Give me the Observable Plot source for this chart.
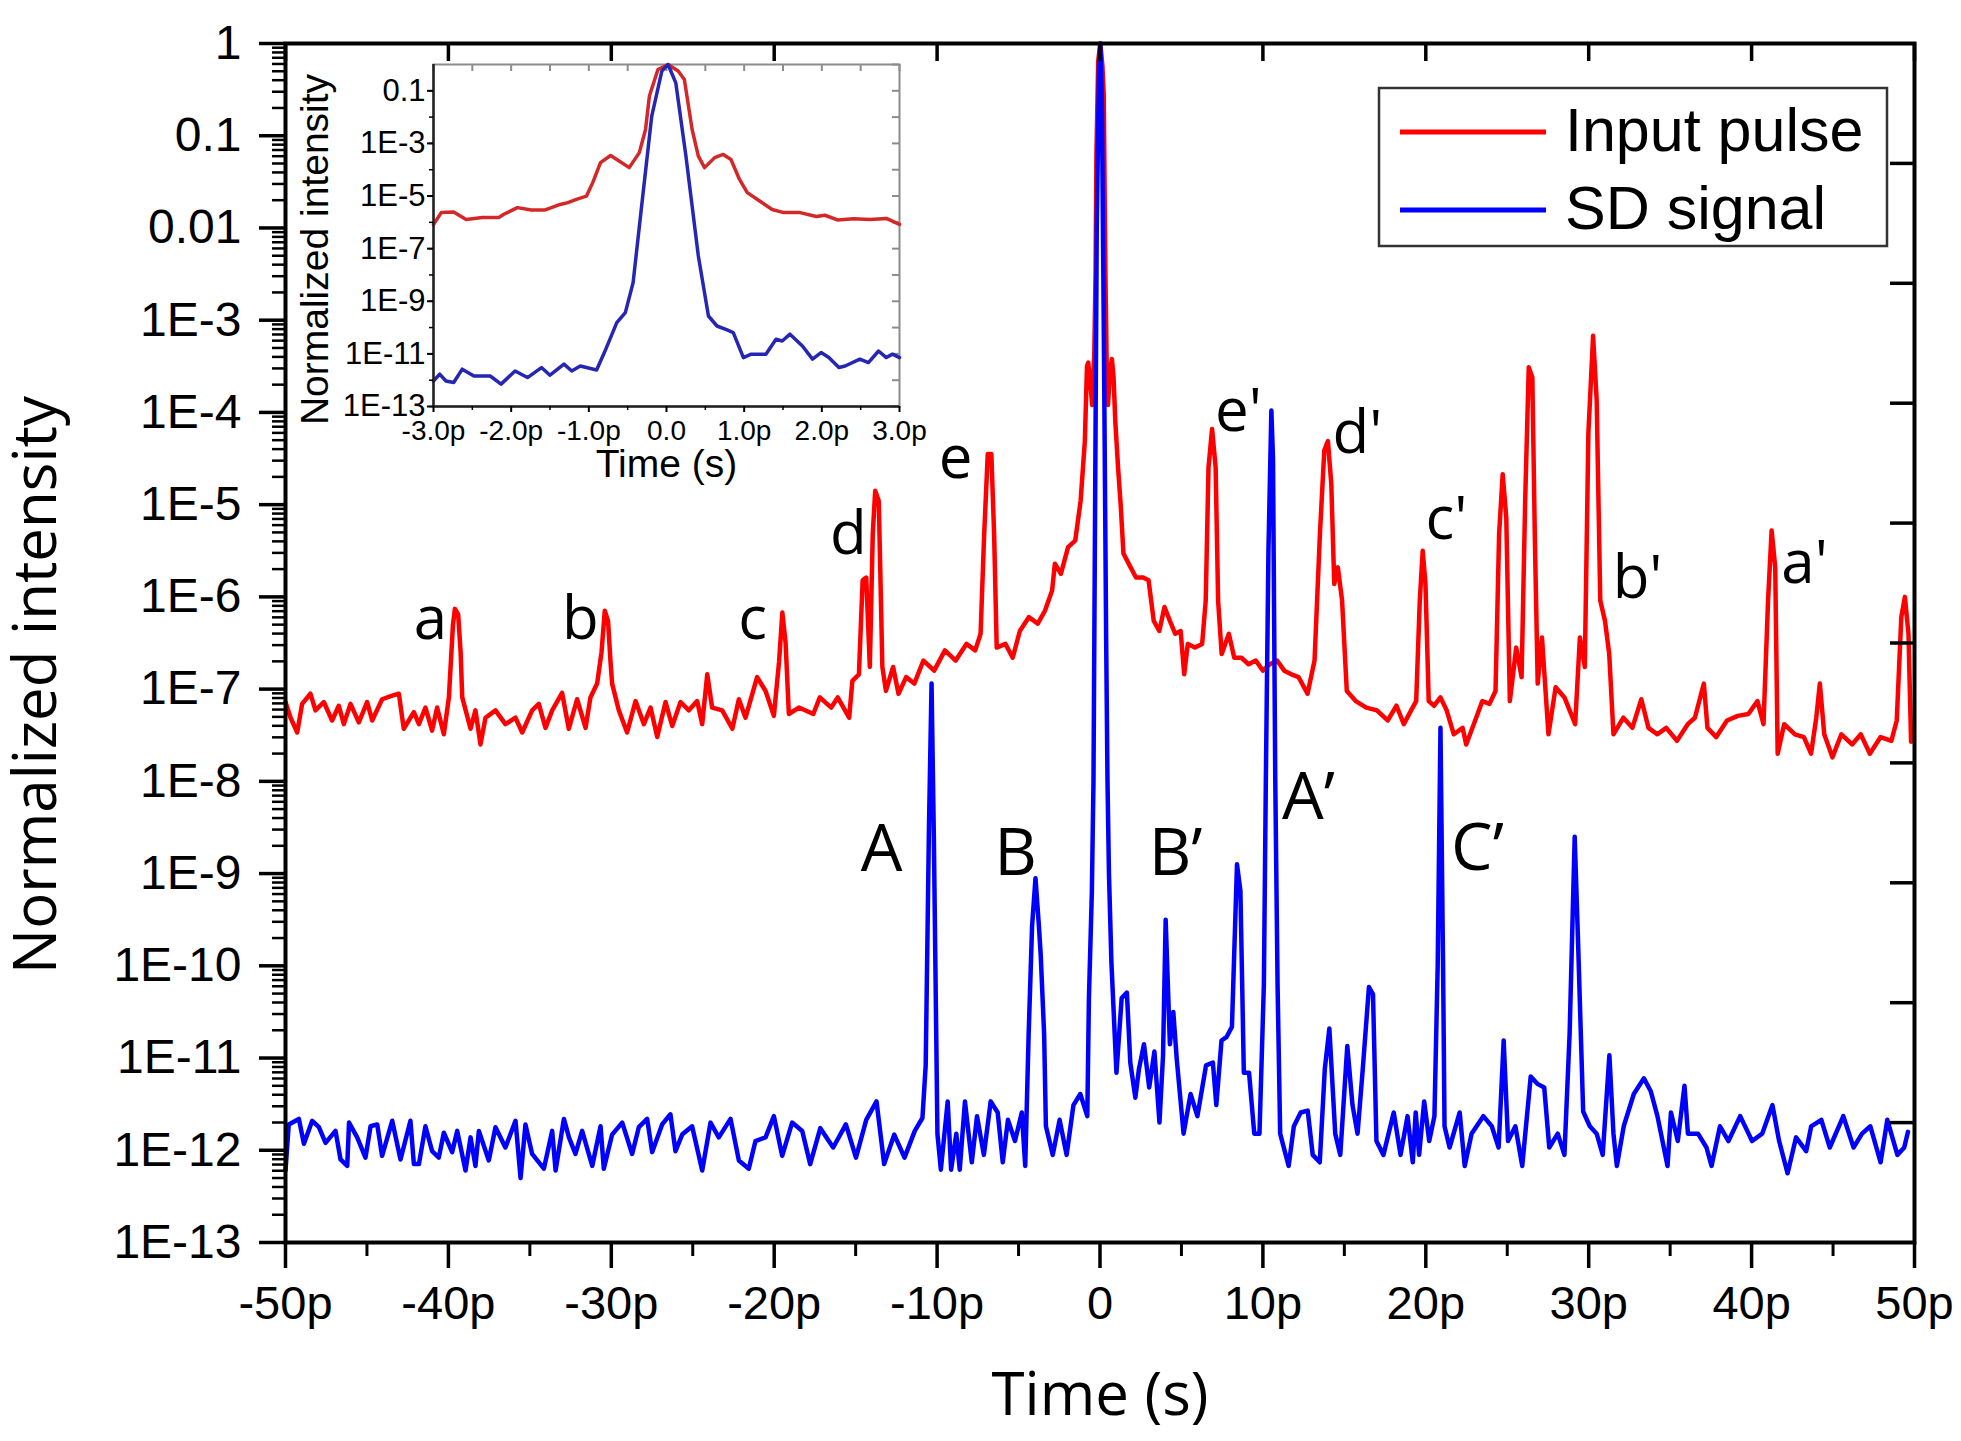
<!DOCTYPE html>
<html><head><meta charset="utf-8">
<script src="https://cdn.jsdelivr.net/npm/d3@7"></script>
<script src="https://cdn.jsdelivr.net/npm/@observablehq/plot@0.6"></script>
<style>
html,body{margin:0;padding:0;background:#fff;}
#wrap{position:relative;width:1961px;height:1441px;overflow:hidden;background:#fff;}
#wrap > *{position:absolute;}
</style></head><body><div id="wrap"></div>
<script>
// ---- Main chart data: [time (ps), log10(normalized intensity)] ----
const inputPulse = [
[-50,-7.14],[-49.69,-7.31],[-49.28,-7.47],[-48.98,-7.16],[-48.47,-7.05],[-48.16,-7.23],[-47.65,-7.14],[-47.14,-7.34],[-46.73,-7.18],[-46.42,-7.38],[-46.01,-7.16],[-45.5,-7.36],[-44.99,-7.14],[-44.68,-7.34],[-44.07,-7.11],[-43.45,-7.07],[-43.04,-7.05],[-42.74,-7.43],[-42.12,-7.25],[-41.81,-7.38],[-41.41,-7.20],[-41.0,-7.45],[-40.69,-7.20],[-40.28,-7.49],[-39.97,-7.09],[-39.72,-6.3],[-39.6,-6.13],[-39.4,-6.19],[-39.25,-6.6],[-39.15,-7.09],[-38.64,-7.43],[-38.34,-7.23],[-38.03,-7.60],[-37.72,-7.31],[-37.11,-7.23],[-36.5,-7.38],[-35.88,-7.31],[-35.47,-7.47],[-34.86,-7.23],[-34.45,-7.16],[-34.04,-7.42],[-33.63,-7.23],[-33.02,-7.04],[-32.61,-7.43],[-32.1,-7.11],[-31.58,-7.42],[-31.28,-7.09],[-30.87,-6.94],[-30.6,-6.6],[-30.4,-6.15],[-30.2,-6.26],[-30.05,-6.7],[-29.95,-6.94],[-29.54,-7.23],[-29.03,-7.47],[-28.51,-7.13],[-28.0,-7.38],[-27.59,-7.20],[-27.18,-7.52],[-26.67,-7.14],[-26.26,-7.40],[-25.75,-7.14],[-25.24,-7.23],[-24.73,-7.13],[-24.42,-7.38],[-24.11,-6.84],[-23.81,-7.20],[-23.19,-7.23],[-22.57,-7.43],[-22.17,-7.11],[-21.76,-7.31],[-21.05,-6.87],[-20.53,-7.02],[-20.02,-7.29],[-19.7,-6.7],[-19.5,-6.17],[-19.3,-6.5],[-19.1,-7.27],[-18.48,-7.20],[-17.6,-7.27],[-17.2,-7.09],[-16.5,-7.20],[-16.1,-7.09],[-15.4,-7.31],[-15.2,-6.91],[-14.8,-6.84],[-14.57,-5.82],[-14.35,-5.79],[-14.13,-6.76],[-13.95,-5.32],[-13.8,-4.85],[-13.58,-4.96],[-13.36,-6.76],[-13.14,-7.02],[-12.7,-6.76],[-12.37,-7.05],[-11.9,-6.87],[-11.4,-6.94],[-10.84,-6.69],[-10.18,-6.80],[-9.52,-6.58],[-8.86,-6.69],[-8.2,-6.51],[-7.66,-6.58],[-7.33,-6.40],[-7.11,-5.32],[-6.89,-4.45],[-6.67,-4.45],[-6.5,-5.32],[-6.34,-6.55],[-5.8,-6.51],[-5.36,-6.66],[-4.92,-6.37],[-4.37,-6.22],[-3.82,-6.29],[-3.38,-6.15],[-2.94,-5.93],[-2.77,-5.64],[-2.4,-5.75],[-1.96,-5.46],[-1.52,-5.39],[-1.19,-4.96],[-0.93,-4.31],[-0.8,-3.5],[-0.72,-3.46],[-0.6,-3.67],[-0.48,-3.92],[-0.35,-3.35],[-0.27,-2.47],[-0.22,-1.2],[-0.11,-0.19],[0.02,0],[0.15,-0.25],[0.23,-0.57],[0.33,-2.47],[0.41,-3.48],[0.49,-3.92],[0.62,-3.54],[0.73,-3.42],[0.83,-3.61],[0.94,-4.1],[1.11,-4.6],[1.27,-5.0],[1.44,-5.53],[1.88,-5.68],[2.21,-5.79],[2.65,-5.79],[2.98,-5.82],[3.3,-6.26],[3.64,-6.37],[3.96,-6.11],[4.29,-6.26],[4.62,-6.40],[4.95,-6.37],[5.17,-6.84],[5.39,-6.51],[5.83,-6.55],[6.27,-6.51],[6.49,-6.04],[6.66,-4.6],[6.88,-4.18],[7.1,-4.6],[7.25,-6.04],[7.47,-6.62],[7.91,-6.40],[8.24,-6.66],[8.68,-6.66],[9.12,-6.73],[9.56,-6.69],[10.0,-6.80],[10.43,-6.73],[10.87,-6.69],[11.31,-6.80],[11.75,-6.84],[12.19,-6.87],[12.74,-7.05],[13.17,-6.69],[13.5,-5.32],[13.77,-4.41],[13.99,-4.31],[14.2,-4.78],[14.38,-5.86],[14.6,-5.68],[14.86,-6.04],[15.15,-7.02],[15.7,-7.13],[16.35,-7.20],[17.0,-7.23],[17.66,-7.34],[18.2,-7.18],[18.65,-7.38],[19.1,-7.23],[19.41,-7.13],[19.63,-6.04],[19.81,-5.50],[19.98,-5.86],[20.18,-7.13],[20.51,-7.18],[20.9,-7.09],[21.28,-7.23],[21.72,-7.49],[22.26,-7.42],[22.48,-7.60],[23.03,-7.34],[23.47,-7.13],[23.91,-7.16],[24.28,-7.02],[24.5,-5.32],[24.72,-4.67],[24.94,-5.14],[25.16,-7.13],[25.55,-6.55],[25.88,-6.87],[26.1,-4.96],[26.32,-3.51],[26.54,-3.62],[26.69,-5.32],[26.87,-6.94],[27.13,-6.44],[27.53,-7.49],[27.97,-6.98],[28.51,-7.09],[29.17,-7.38],[29.46,-6.44],[29.76,-6.76],[29.98,-4.23],[30.27,-3.17],[30.49,-3.87],[30.71,-6.04],[31.0,-6.26],[31.26,-6.62],[31.52,-7.49],[32.13,-7.31],[32.68,-7.42],[33.23,-7.11],[33.67,-7.42],[34.22,-7.49],[34.76,-7.42],[35.42,-7.56],[36.08,-7.38],[36.52,-7.31],[37.07,-6.94],[37.29,-7.42],[37.83,-7.52],[38.49,-7.34],[39.15,-7.29],[39.8,-7.27],[40.36,-7.13],[40.73,-7.38],[41.01,-6.04],[41.23,-5.28],[41.45,-5.68],[41.6,-7.70],[42.0,-7.38],[42.66,-7.49],[43.21,-7.52],[43.65,-7.70],[43.97,-7.31],[44.19,-6.94],[44.46,-7.49],[44.96,-7.74],[45.51,-7.49],[46.17,-7.60],[46.7,-7.49],[47.26,-7.70],[47.92,-7.52],[48.58,-7.56],[48.91,-7.34],[49.19,-6.22],[49.41,-6.0],[49.63,-6.40],[49.79,-7.57]
];
const sdSignal = [
[-50,-12.22],[-49.8,-11.72],[-49.18,-11.66],[-48.87,-11.93],[-48.36,-11.68],[-47.95,-11.75],[-47.54,-11.92],[-46.93,-11.79],[-46.62,-12.10],[-46.21,-12.17],[-46.1,-11.70],[-45.6,-11.86],[-45.09,-12.08],[-44.78,-11.74],[-44.37,-11.72],[-44.07,-12.06],[-43.45,-11.68],[-42.94,-12.10],[-42.33,-11.68],[-42.12,-12.15],[-41.81,-12.15],[-41.41,-11.74],[-41.0,-12.01],[-40.59,-12.08],[-40.28,-11.81],[-39.77,-12.02],[-39.46,-11.79],[-38.95,-12.22],[-38.64,-11.86],[-38.34,-12.17],[-38.13,-11.79],[-37.52,-12.11],[-37.11,-11.75],[-36.5,-11.97],[-35.88,-11.68],[-35.57,-12.30],[-35.27,-11.72],[-34.86,-12.04],[-34.14,-12.20],[-33.63,-11.79],[-33.42,-12.22],[-32.91,-11.66],[-32.6,-11.86],[-32.2,-12.04],[-31.79,-11.79],[-31.17,-12.17],[-30.66,-11.74],[-30.46,-12.20],[-29.95,-11.83],[-29.33,-11.70],[-28.72,-12.04],[-28.31,-11.75],[-27.8,-11.66],[-27.49,-12.02],[-26.88,-11.72],[-26.37,-11.61],[-26.06,-12.01],[-25.65,-11.83],[-25.04,-11.74],[-24.42,-12.22],[-23.91,-11.70],[-23.4,-11.86],[-22.68,-11.66],[-22.17,-12.11],[-21.56,-12.20],[-21.15,-11.90],[-20.53,-11.86],[-20.02,-11.63],[-19.51,-12.06],[-18.9,-11.70],[-18.28,-11.79],[-17.79,-12.15],[-17.17,-11.76],[-16.38,-11.97],[-15.6,-11.72],[-14.98,-12.08],[-14.35,-11.67],[-13.72,-11.47],[-13.25,-12.15],[-12.63,-11.83],[-12.0,-12.08],[-11.37,-11.79],[-10.9,-11.65],[-10.7,-11.08],[-10.5,-8.5],[-10.34,-6.94],[-10.2,-8.6],[-9.98,-11.82],[-9.77,-12.21],[-9.35,-11.47],[-9.14,-12.21],[-8.82,-11.82],[-8.61,-12.21],[-8.29,-11.47],[-7.87,-12.13],[-7.55,-11.63],[-7.13,-12.05],[-6.71,-11.47],[-6.28,-11.59],[-5.97,-12.13],[-5.65,-11.67],[-5.22,-11.9],[-4.8,-11.59],[-4.59,-12.17],[-4.38,-10.74],[-4.17,-9.57],[-3.96,-9.05],[-3.75,-9.57],[-3.64,-9.88],[-3.43,-10.74],[-3.32,-11.74],[-2.9,-12.05],[-2.48,-11.67],[-2.05,-12.05],[-1.63,-11.51],[-1.21,-11.39],[-0.78,-11.63],[-0.68,-10.35],[-0.5,-9.2],[-0.4,-8.0],[-0.3,-5.0],[-0.2,-2.0],[-0.06,-0.25],[0.02,0],[0.12,-0.7],[0.25,-3.48],[0.38,-6.5],[0.46,-8.0],[0.55,-9.0],[0.7,-9.96],[1.01,-11.16],[1.33,-10.35],[1.65,-10.29],[1.86,-11.05],[2.17,-11.43],[2.39,-11.12],[2.7,-10.85],[3.02,-11.32],[3.34,-10.93],[3.65,-11.7],[3.87,-10.97],[4.03,-9.5],[4.29,-10.85],[4.5,-10.5],[4.71,-11.01],[5.13,-11.82],[5.56,-11.39],[5.98,-11.63],[6.51,-11.08],[6.93,-11.05],[7.14,-11.51],[7.46,-10.81],[7.78,-10.77],[8.1,-10.66],[8.41,-8.9],[8.62,-9.19],[8.83,-11.16],[9.15,-11.16],[9.47,-11.82],[9.79,-11.82],[10.06,-10.2],[10.18,-8.0],[10.34,-5.5],[10.52,-3.98],[10.62,-4.5],[10.76,-8.0],[10.9,-10.2],[11.06,-11.82],[11.58,-12.17],[11.9,-11.74],[12.32,-11.59],[12.75,-11.57],[13.06,-12.05],[13.49,-12.13],[13.8,-11.12],[14.08,-10.68],[14.44,-11.82],[14.75,-12.05],[15.18,-10.87],[15.5,-11.51],[15.81,-11.82],[16.13,-11.12],[16.51,-10.23],[16.76,-10.31],[16.97,-11.9],[17.4,-12.05],[18.03,-11.59],[18.45,-12.05],[18.88,-11.63],[19.2,-12.13],[19.38,-11.59],[19.59,-12.05],[19.9,-11.47],[20.21,-11.9],[20.53,-11.63],[20.73,-10.0],[20.9,-7.42],[21.06,-10.0],[21.15,-11.74],[21.46,-11.97],[22.08,-11.59],[22.39,-12.17],[22.81,-11.82],[23.53,-11.63],[24.05,-11.74],[24.47,-11.97],[24.78,-10.81],[25.05,-11.9],[25.5,-11.74],[25.92,-12.17],[26.44,-11.2],[26.85,-11.28],[27.27,-11.32],[27.58,-11.97],[28.1,-11.82],[28.51,-12.05],[28.83,-10.73],[29.14,-8.6],[29.34,-9.7],[29.66,-11.58],[30.07,-11.74],[30.49,-11.82],[30.86,-12.05],[31.27,-10.97],[31.52,-11.82],[31.73,-12.17],[32.15,-11.74],[32.77,-11.39],[33.39,-11.22],[33.81,-11.36],[34.22,-11.63],[34.84,-12.17],[35.05,-11.59],[35.47,-11.9],[35.88,-11.3],[36.09,-11.82],[36.71,-11.82],[37.23,-11.97],[37.54,-12.17],[38.06,-11.74],[38.58,-11.9],[39.3,-11.63],[40.03,-11.9],[40.65,-11.82],[41.28,-11.51],[41.69,-11.9],[42.21,-12.25],[42.73,-11.86],[43.35,-12.01],[43.66,-11.74],[44.28,-11.67],[44.8,-11.97],[45.63,-11.63],[46.26,-11.97],[46.78,-11.82],[47.29,-11.74],[47.92,-12.13],[48.33,-11.67],[48.95,-12.05],[49.37,-11.97],[49.6,-11.8]
];

// ---- Inset data: [time (ps), log10(normalized intensity)] ----
const insetInput = [
[-3,-6.08],[-2.9,-5.63],[-2.74,-5.61],[-2.58,-5.89],[-2.37,-5.82],[-2.16,-5.82],[-2.1,-5.7],[-1.92,-5.44],[-1.74,-5.53],[-1.56,-5.53],[-1.37,-5.32],[-1.27,-5.25],[-1.16,-5.13],[-1.03,-5.0],[-0.95,-4.49],[-0.85,-3.73],[-0.72,-3.46],[-0.61,-3.67],[-0.48,-3.92],[-0.35,-3.35],[-0.27,-2.47],[-0.22,-1.2],[-0.11,-0.19],[0.02,0],[0.15,-0.25],[0.23,-0.57],[0.33,-2.47],[0.41,-3.48],[0.49,-3.92],[0.62,-3.54],[0.73,-3.42],[0.83,-3.61],[0.94,-4.37],[1.04,-4.87],[1.2,-5.19],[1.36,-5.51],[1.51,-5.63],[1.72,-5.63],[1.93,-5.78],[2.04,-5.73],[2.2,-5.91],[2.41,-5.86],[2.62,-5.89],[2.83,-5.85],[3.0,-6.08]
];
const insetSD = [
[-3,-12.03],[-2.92,-11.77],[-2.84,-12.03],[-2.74,-12.09],[-2.63,-11.58],[-2.48,-11.84],[-2.27,-11.84],[-2.13,-12.15],[-1.95,-11.65],[-1.79,-11.9],[-1.61,-11.52],[-1.5,-11.81],[-1.32,-11.39],[-1.22,-11.65],[-1.11,-11.46],[-0.9,-11.61],[-0.8,-10.95],[-0.64,-9.81],[-0.53,-9.43],[-0.43,-8.29],[-0.32,-5.38],[-0.19,-1.96],[-0.06,-0.25],[0.02,0],[0.12,-0.7],[0.25,-3.48],[0.41,-7.28],[0.54,-9.56],[0.65,-9.94],[0.78,-10.09],[0.86,-10.19],[0.99,-11.14],[1.09,-11.01],[1.28,-11.01],[1.41,-10.44],[1.49,-10.51],[1.59,-10.25],[1.75,-10.7],[1.88,-11.2],[1.99,-10.95],[2.09,-11.14],[2.22,-11.52],[2.3,-11.46],[2.49,-11.2],[2.6,-11.33],[2.73,-10.89],[2.83,-11.14],[2.91,-11.01],[3.0,-11.14]
];

// ---- Ticks ----
const xMajor = [-50,-40,-30,-20,-10,0,10,20,30,40,50];
const xMinor = [-45,-35,-25,-15,-5,5,15,25,35,45];
const yMajorExp = [0,-1,-2,-3,-4,-5,-6,-7,-8,-9,-10,-11,-12,-13];
const rightTickExp = [-1.3,-2.6,-3.9,-5.2,-6.5,-7.8,-9.1,-10.4,-11.7];
const insetXTicks = [-3,-2,-1,0,1,2,3];
const insetXMinor = [-2.5,-1.5,-0.5,0.5,1.5,2.5];
const insetYLabelExp = [-1,-3,-5,-7,-9,-11,-13];
const insetYDecadeExp = [0,-2,-4,-6,-8,-10,-12];

// ---- Annotation labels ----
const peakLabels = ["a","b","c","d","e","e'","d'","c'","b'","a'"];
const peakLabelT = [-41.1,-31.9,-21.33,-15.44,-8.87,8.5,15.8,21.27,33.0,43.25];
const peakLabelExp = [-6.25,-6.25,-6.25,-5.33,-4.5,-3.99,-4.23,-5.16,-5.8,-5.64];
const sdLabels = ["A","B","B\u2019","A\u2019","C\u2019"];
const sdLabelT = [-13.41,-5.19,4.64,12.8,23.17];
const sdLabelExp = [-8.74,-8.79,-8.79,-8.18,-8.73];

const seriesNames = ["Input pulse","SD signal"];
const seriesColors = ["#ff0000","#0000ff"];

// ---- helpers ----
const yMinor = [];
for (let e = -13; e < 0; e++) for (let m = 2; m <= 9; m++) yMinor.push(m * 10 ** e);
const insetMinor = [];
for (let e = -13; e < 0; e++) insetMinor.push(10 ** e);
const fmtMain = v => { const e = Math.round(Math.log10(v)); return e === 0 ? "1" : e === -1 ? "0.1" : e === -2 ? "0.01" : "1E" + e; };
const fmtX = d => d === 0 ? "0" : d + "p";
const fmtInsetY = v => { const e = Math.round(Math.log10(v)); return e === -1 ? "0.1" : "1E" + e; };
const fmtInsetX = d => d === 0 ? "0.0" : d.toFixed(1) + "p";
const SANS = "'Liberation Sans', Arial, sans-serif";
const OPEN = "'Open Sans', 'Noto Sans', sans-serif";

const W = 1961, H = 1441, ML = 285, MR = 47, MT = 43, MB = 199;
const FW = W - ML - MR, FH = H - MT - MB;

const main = Plot.plot({
  width: W, height: H, marginLeft: ML, marginRight: MR, marginTop: MT, marginBottom: MB,
  x: {domain: [-50, 50]},
  y: {type: "log", domain: [1e-13, 1]},
  style: {fontFamily: SANS, fontSize: "47px", background: "transparent", color: "#000", overflow: "visible"},
  marks: [
    Plot.line(inputPulse, {x: d => d[0], y: d => 10 ** d[1], stroke: seriesColors[0], strokeWidth: 4.5, strokeLinejoin: "round"}),
    Plot.line(sdSignal, {x: d => d[0], y: d => 10 ** d[1], stroke: seriesColors[1], strokeWidth: 4.5, strokeLinejoin: "round"}),
    Plot.axisY({ticks: yMajorExp.map(e => 10 ** e), tickSize: 26, tickPadding: 18, tickFormat: fmtMain, strokeWidth: 3.5, fontSize: 48, label: null}),
    Plot.axisY({ticks: yMinor, tickSize: 13, tickFormat: () => "", strokeWidth: 2.5, label: null}),
    Plot.axisX({ticks: xMajor, tickSize: 26, tickPadding: 17, tickFormat: fmtX, strokeWidth: 3.5, fontSize: 47, label: null}),
    Plot.axisX({ticks: xMinor, tickSize: 14, tickFormat: () => "", strokeWidth: 3, label: null}),
    Plot.tickX(xMajor, {x: d => d, insetBottom: FH - 18, strokeWidth: 3.5}),
    Plot.tickY(rightTickExp, {y: d => 10 ** d, insetLeft: FW - 24, strokeWidth: 3.5}),
    Plot.frame({strokeWidth: 4}),
    Plot.text(peakLabels, {x: (d, i) => peakLabelT[i], y: (d, i) => 10 ** peakLabelExp[i], text: d => d, fontSize: 60, fontFamily: OPEN, fill: "#000"}),
    Plot.text(sdLabels, {x: (d, i) => sdLabelT[i], y: (d, i) => 10 ** sdLabelExp[i], text: d => d, fontSize: 66, fontFamily: OPEN, fill: "#000"}),
    Plot.text(["Normalized intensity"], {text: d => d, frameAnchor: "left", textAnchor: "middle", lineAnchor: "middle", rotate: -90, dx: -249, dy: 42, fontSize: 60, fontFamily: OPEN}),
    Plot.text(["Time (s)"], {text: d => d, frameAnchor: "bottom", textAnchor: "middle", lineAnchor: "middle", dy: 153, fontSize: 60, fontFamily: OPEN})
  ]
});
main.style.left = "0px"; main.style.top = "0px";

// ---- inset ----
const IW = 700, IH = 460, IL = 193, IR = 41, IT = 14, IB = 104;
const IFW = IW - IL - IR, IFH = IH - IT - IB;
const inset = Plot.plot({
  width: IW, height: IH, marginLeft: IL, marginRight: IR, marginTop: IT, marginBottom: IB,
  x: {domain: [-3, 3]},
  y: {type: "log", domain: [1e-13, 1]},
  style: {fontFamily: SANS, fontSize: "28px", background: "transparent", color: "#000", overflow: "visible"},
  marks: [
    Plot.frame({stroke: "#8c8c8c", strokeWidth: 2}),
    Plot.tickX(insetXTicks.concat(insetXMinor), {x: d => d, insetBottom: IFH - 7, stroke: "#8c8c8c", strokeWidth: 2}),
    Plot.tickY(insetYDecadeExp.concat(insetYLabelExp), {y: d => 10 ** d, insetLeft: IFW - 7, stroke: "#8c8c8c", strokeWidth: 2}),
    Plot.line(insetInput, {x: d => d[0], y: d => 10 ** d[1], stroke: "#d42828", strokeWidth: 3.5, strokeLinejoin: "round"}),
    Plot.line(insetSD, {x: d => d[0], y: d => 10 ** d[1], stroke: "#2626b4", strokeWidth: 3.5, strokeLinejoin: "round"}),
    Plot.ruleX([-3], {stroke: "#222", strokeWidth: 2.5}),
    Plot.ruleY([1e-13], {stroke: "#222", strokeWidth: 2.5}),
    Plot.axisY({ticks: insetYLabelExp.map(e => 10 ** e), tickSize: 6, tickPadding: 2, tickFormat: fmtInsetY, fontSize: 31, strokeWidth: 2, label: null}),
    Plot.axisY({ticks: insetMinor, tickSize: 4, tickFormat: () => "", strokeWidth: 1.5, label: null}),
    Plot.axisX({ticks: insetXTicks, tickSize: 6, tickPadding: 8, tickFormat: fmtInsetX, fontSize: 28, strokeWidth: 2, label: null}),
    Plot.axisX({ticks: insetXMinor, tickSize: 4, tickFormat: () => "", strokeWidth: 1.5, label: null}),
    Plot.text(["Normalized intensity"], {text: d => d, frameAnchor: "left", textAnchor: "middle", lineAnchor: "middle", rotate: -90, dx: -118, dy: 14, fontSize: 39}),
    Plot.text(["Time (s)"], {text: d => d, frameAnchor: "bottom", textAnchor: "middle", lineAnchor: "middle", dy: 58, fontSize: 39})
  ]
});
inset.style.left = "240px"; inset.style.top = "50px";

// ---- legend ----
const leg = d3.create("svg").attr("width", W).attr("height", H).style("left", "0px").style("top", "0px");
leg.append("rect").attr("x", 1379).attr("y", 88).attr("width", 508).attr("height", 158)
  .attr("fill", "#fff").attr("stroke", "#333").attr("stroke-width", 2.5);
seriesNames.forEach((name, i) => {
  const cy = 132 + i * 78;
  leg.append("line").attr("x1", 1400).attr("x2", 1546).attr("y1", cy).attr("y2", cy)
    .attr("stroke", seriesColors[i]).attr("stroke-width", 5);
  leg.append("text").attr("x", 1565).attr("y", cy + 19).text(name)
    .attr("font-family", SANS).attr("font-size", 61).attr("fill", "#000");
});

const wrap = document.getElementById("wrap");
wrap.appendChild(main);
wrap.appendChild(inset);
wrap.appendChild(leg.node());
</script></body></html>
